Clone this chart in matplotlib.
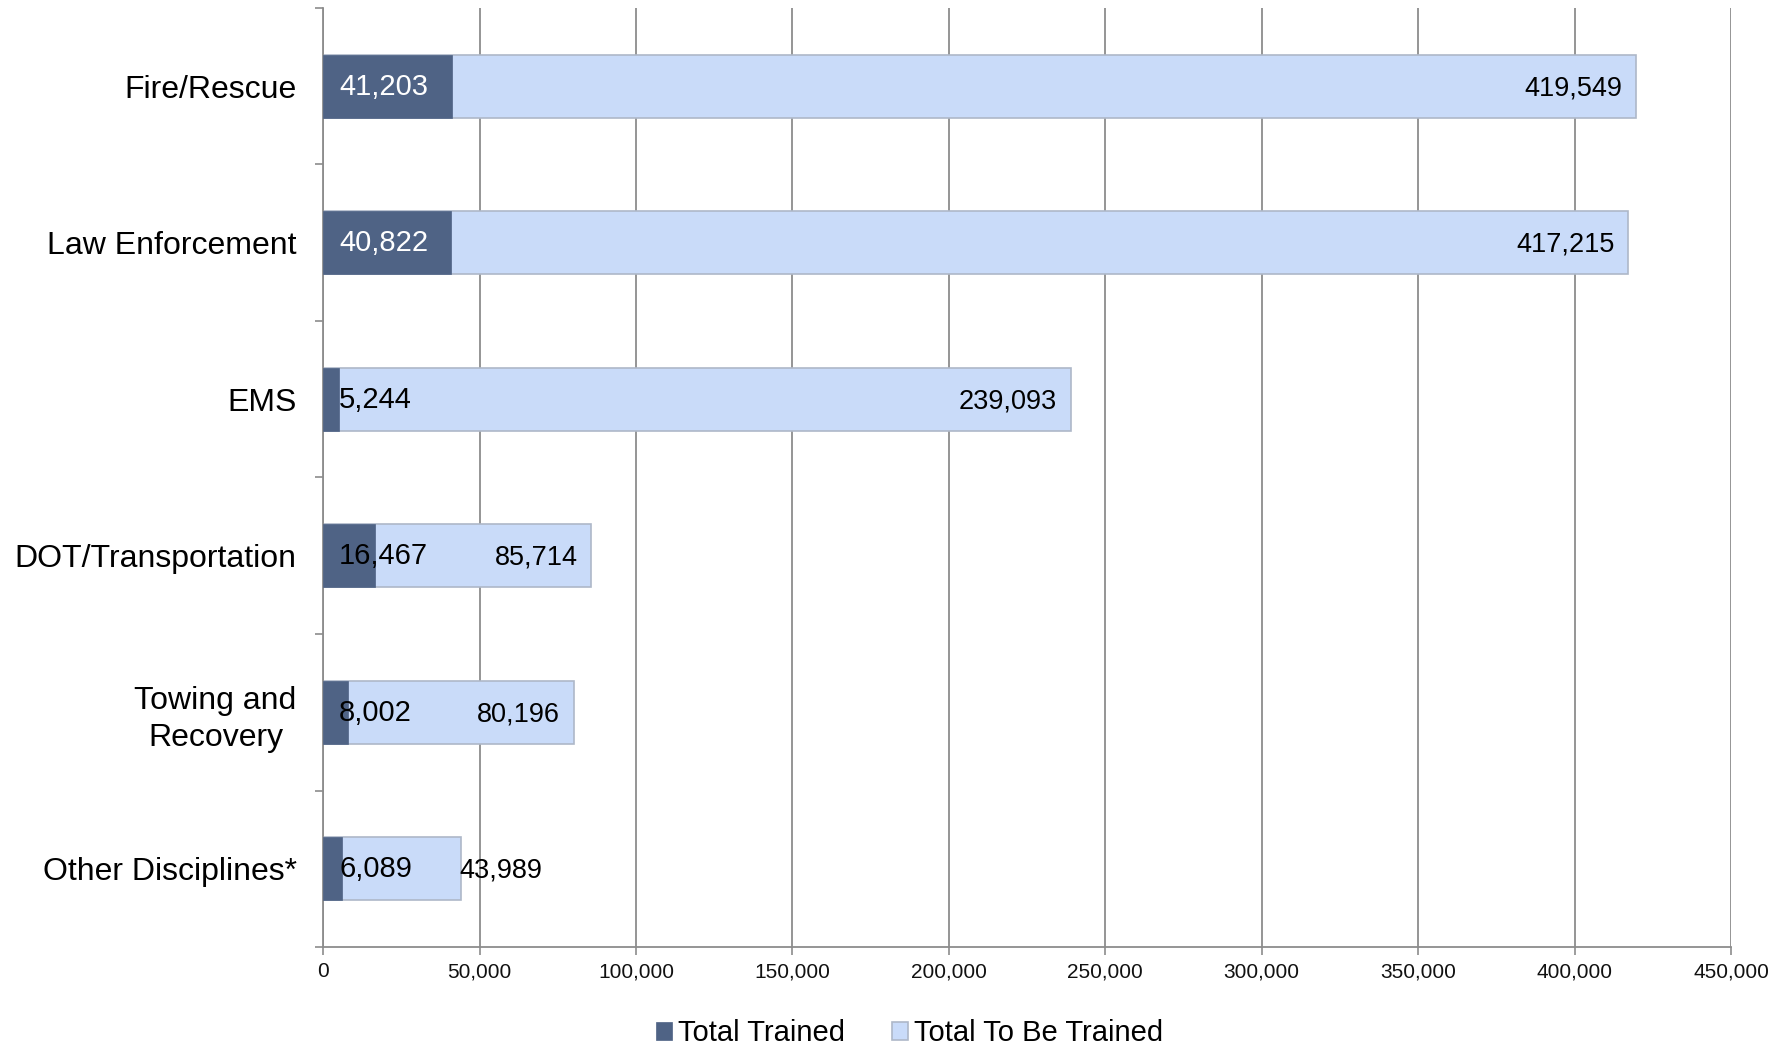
import numpy as np
import matplotlib
matplotlib.use("Agg")
import matplotlib.pyplot as plt
import matplotlib.transforms as mtransforms
from matplotlib.ticker import FuncFormatter, MultipleLocator

plt.rcParams['font.family'] = ['Liberation Sans', 'DejaVu Sans']

# data
categories = ["Fire/Rescue", "Law Enforcement", "EMS", "DOT/Transportation",
              "Towing and\nRecovery", "Other Disciplines*"]
total_trained = [41203, 40822, 5244, 16467, 8002, 6089]
total_to_be_trained = [419549, 417215, 239093, 85714, 80196, 43989]
x_ticks = [0, 50000, 100000, 150000, 200000, 250000, 300000, 350000, 400000, 450000]

DARK = "#4F6385"
LIGHT = "#C9DBF9"
GRID = "#8C8C8C"

fig = plt.figure(figsize=(17.87, 10.46), dpi=100)
ax = fig.add_axes([0.1808, 0.0946, 0.7879, 0.8978])

y = np.arange(len(categories))
h = 0.4

# bars overlap fully (Excel 100% overlap), light drawn behind dark
ax.barh(y, total_to_be_trained, height=h, color=LIGHT, edgecolor="#AEB8C8",
        linewidth=1.2, zorder=2, label="Total To Be Trained")
ax.barh(y, total_trained, height=h, color=DARK, edgecolor=DARK,
        linewidth=0.5, zorder=3, label="Total Trained")

ax.set_xlim(0, 450000)
ax.set_ylim(len(categories) - 0.5, -0.5)

# labels
for i in range(len(categories)):
    c = "white" if total_trained[i] > 30000 else "black"
    ax.annotate(f"{total_trained[i]:,}", (0, y[i]), xytext=(11.5, -0.5),
                textcoords="offset points", ha="left", va="center",
                fontsize=21, color=c, zorder=5)
    if total_to_be_trained[i] > 60000:
        ax.annotate(f"{total_to_be_trained[i]:,}", (total_to_be_trained[i], y[i]),
                    xytext=(-10, -1.5), textcoords="offset points", ha="right",
                    va="center", fontsize=19.5, color="black", zorder=5)
    else:
        ax.annotate(f"{total_to_be_trained[i]:,}", (total_to_be_trained[i], y[i]),
                    xytext=(-1, -1.5), textcoords="offset points", ha="left",
                    va="center", fontsize=19.5, color="black", zorder=5)

# x axis
ax.set_xticks(x_ticks)
ax.xaxis.set_major_formatter(FuncFormatter(lambda v, p: f"{int(v):,}"))
ax.tick_params(axis="x", length=6, width=1.2, color=GRID, pad=5,
               labelsize=15, labelcolor="#111111")
ax.grid(axis="x", color=GRID, linewidth=1.3, zorder=0)

# y axis: labels at centers, tick marks at category boundaries
ax.set_yticks(y)
ax.set_yticklabels(categories, fontsize=23, multialignment="center", linespacing=1.3)
shift = mtransforms.ScaledTranslation(0, 3 / 72, fig.dpi_scale_trans)
for t in ax.get_yticklabels():
    t.set_transform(t.get_transform() + shift)
ax.tick_params(axis="y", which="major", length=0, pad=19)
ax.yaxis.set_minor_locator(MultipleLocator(1))
ax.set_yticks(np.arange(len(categories) + 1) - 0.5, minor=True)
ax.tick_params(axis="y", which="minor", length=6, width=1.2, color=GRID)

for s in ["top", "right"]:
    ax.spines[s].set_visible(False)
for s in ["left", "bottom"]:
    ax.spines[s].set_color(GRID)
    ax.spines[s].set_linewidth(1.3)
ax.set_axisbelow(True)

handles, labels = ax.get_legend_handles_labels()
fig.legend(handles[::-1], labels[::-1], loc="center", bbox_to_anchor=(0.509, 0.012),
           ncol=2, frameon=False, fontsize=21, handlelength=0.55, handleheight=0.55,
           handletextpad=0.2, columnspacing=1.6, borderaxespad=0)

fig.savefig("out.png", dpi=100)
